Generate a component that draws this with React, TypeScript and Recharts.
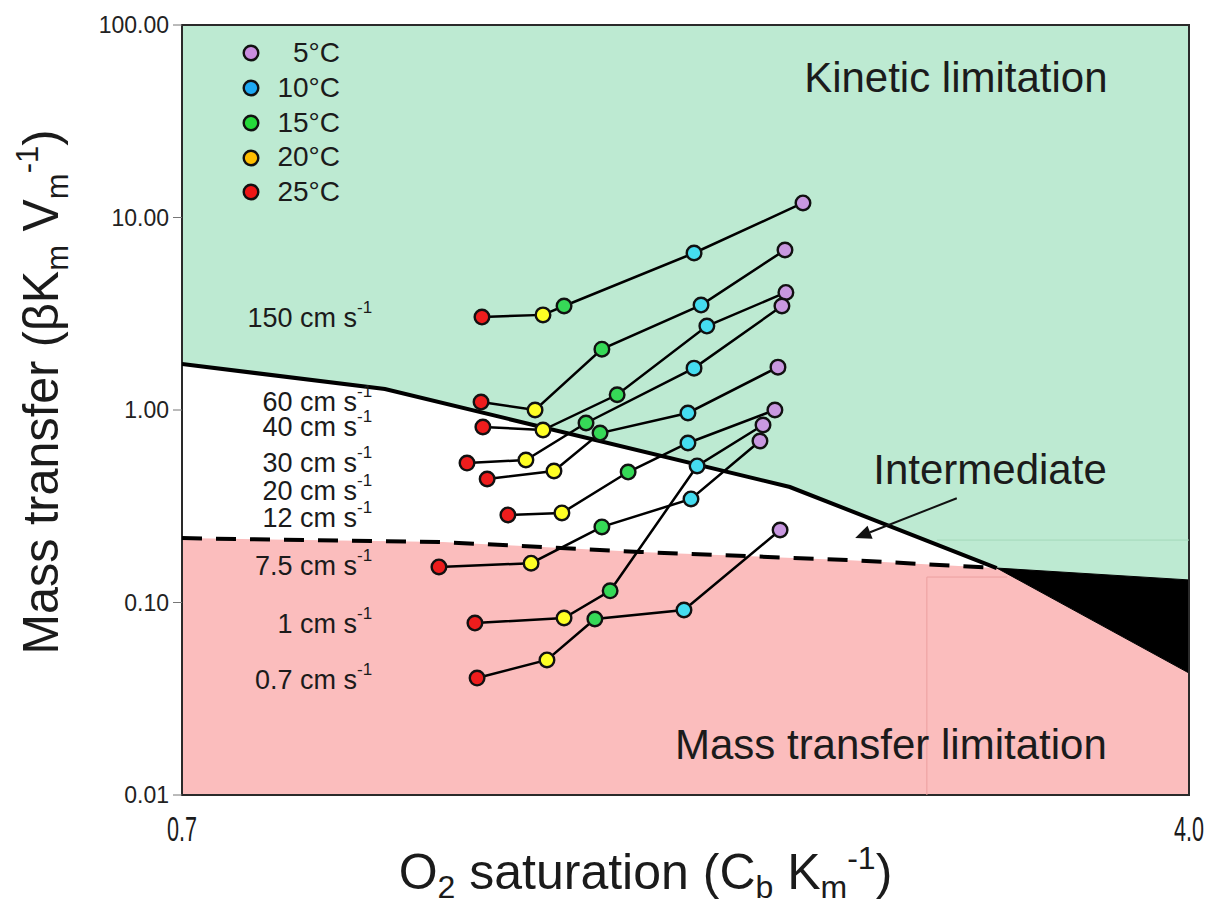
import {
  Area,
  ComposedChart,
  Legend,
  Line,
  ReferenceArea,
  ReferenceDot,
  ReferenceLine,
  XAxis,
  YAxis,
} from 'recharts'

const FONT = '"Liberation Sans", Arial, Helvetica, sans-serif'
const INK = '#1b1b1b'
const GREEN = '#bdead2'
const PINK = '#fbbdbd'

// Temperature of each point along a velocity line, left to right
const temperatures = [25, 20, 15, 10, 5]
const markerColors = ['#ee1d1d', '#ffff24', '#36d957', '#45dcf0', '#c998e0']

// Legend runs cold -> warm
const legendTemps = [5, 10, 15, 20, 25]
const legendColors = ['#c98ddf', '#1ea9f2', '#25d93a', '#ffbf00', '#ee1616']

// Flow velocities, cm s-1
const velocities = ['150', '60', '40', '30', '20', '12', '7.5', '1', '0.7']

// O2 saturation (Cb/Km) at 25, 20, 15, 10, 5 °C for each velocity
const saturation = [
  [1.683, 1.883, 1.952, 2.378, 2.735],
  [1.68, 1.857, 2.076, 2.401, 2.676],
  [1.686, 1.883, 2.126, 2.42, 2.679],
  [1.634, 1.827, 2.024, 2.378, 2.666],
  [1.7, 1.919, 2.07, 2.358, 2.653],
  [1.768, 1.945, 2.162, 2.358, 2.643],
  [1.542, 1.844, 2.076, 2.368, 2.594],
  [1.66, 1.952, 2.103, 2.388, 2.604],
  [1.667, 1.896, 2.053, 2.345, 2.66],
]

// Mass transfer (βKm/Vm), same order
const massTransfer = [
  [3.04, 3.12, 3.47, 6.54, 11.9],
  [1.1, 1.0, 2.07, 3.51, 6.78],
  [0.816, 0.787, 1.2, 2.73, 4.08],
  [0.53, 0.55, 0.856, 1.65, 3.47],
  [0.438, 0.482, 0.759, 0.965, 1.67],
  [0.285, 0.292, 0.476, 0.674, 1.0],
  [0.153, 0.16, 0.247, 0.345, 0.69],
  [0.0782, 0.0831, 0.115, 0.512, 0.836],
  [0.0405, 0.0503, 0.0821, 0.0914, 0.238],
]

// Kinetic limit (solid boundary), continues as top edge of the overlap wedge
const kineticSat = [0.7, 1.365, 2.692, 3.37, 4.0]
const kineticMt = [1.734, 1.285, 0.398, 0.151, 0.131]

// Mass transfer limit (dashed boundary), then bottom edge of the wedge
const massSat = [0.7, 1.555, 2.201, 2.889, 3.37, 4.0]
const massMt = [0.216, 0.206, 0.183, 0.166, 0.151, 0.043]

const xTicks = [0.7, 4.0]
const yTicks = [0.01, 0.1, 1, 10, 100]
const Y_MIN = 0.01
const Y_MAX = 100

// where the velocity captions sit
const speedLabelSat = 1.323
const speedLabelMt = [3.0, 1.1, 0.816, 0.53, 0.38, 0.275, 0.155, 0.0773, 0.0398]

const regionLabels = [
  { text: 'Kinetic limitation', x: 3.236, y: 53.1 },
  { text: 'Intermediate', x: 3.348, y: 0.488 },
  { text: 'Mass transfer limitation', x: 3.023, y: 0.0182 },
]

const lineData = velocities.map((_, i) =>
  saturation[i].map((x, j) => ({ x, y: massTransfer[i][j] })),
)
const kineticBand = kineticSat.map((x, i) => ({ x, band: [kineticMt[i], Y_MAX] }))
const massBand = massSat.map((x, i) => ({ x, band: [Y_MIN, massMt[i]] }))
const wedgeBand = kineticSat.slice(3).map((x, i) => ({ x, band: [massMt[i + 4], kineticMt[i + 3]] }))
const kineticLine = kineticSat.slice(0, 4).map((x, i) => ({ x, y: kineticMt[i] }))
const massLine = massSat.slice(0, 5).map((x, i) => ({ x, y: massMt[i] }))

const renderDot = (props: any) => {
  const { cx, cy, index } = props
  return (
    <circle
      key={`dot-${index}`}
      cx={cx}
      cy={cy}
      r={7.3}
      fill={markerColors[index]}
      stroke="#111"
      strokeWidth={2.4}
    />
  )
}

function TempLegend() {
  return (
    <div style={{ fontFamily: FONT, fontSize: 28, color: INK }}>
      {legendTemps.map((t, i) => (
        <div key={t} style={{ display: 'flex', alignItems: 'center', height: 34.75 }}>
          <svg width={20} height={20}>
            <circle cx={10} cy={10} r={7.3} fill={legendColors[i]} stroke="#111" strokeWidth={2.4} />
          </svg>
          <span style={{ width: 79, textAlign: 'right', lineHeight: '34.75px' }}>{t}°C</span>
        </div>
      ))}
    </div>
  )
}

const XTick = ({ x, y, payload }: any) => (
  <text
    transform={`translate(${x},${y}) scale(0.6,1)`}
    textAnchor="middle"
    dy="0.71em"
    fontFamily={FONT}
    fontSize={36}
    fill={INK}
  >
    {Number(payload.value).toFixed(1)}
  </text>
)

const XTitle = ({ viewBox }: any) => {
  const vb = viewBox ?? { x: 174, y: 787, width: 1007, height: 97 }
  const x = vb.x + vb.width / 2 - 40
  const y = vb.y + 94
  return (
    <text x={x} y={y} textAnchor="middle" fontFamily={FONT} fontSize={50} fill={INK}>
      O<tspan fontSize={32} dy={9}>2</tspan>
      <tspan dy={-9}> saturation (C</tspan>
      <tspan fontSize={32} dy={9}>b</tspan>
      <tspan dy={-9}> K</tspan>
      <tspan fontSize={32} dy={9}>m</tspan>
      <tspan fontSize={32} dy={-29}>-1</tspan>
      <tspan dy={20}>)</tspan>
    </text>
  )
}

const YTitle = ({ viewBox }: any) => {
  const vb = viewBox ?? { x: 74, y: 17, width: 100, height: 770 }
  const x = vb.x - 24
  const y = vb.y + vb.height / 2 - 18
  return (
    <text
      transform={`translate(${x},${y}) rotate(-90) scale(0.97,1)`}
      textAnchor="middle"
      fontFamily={FONT}
      fontSize={50}
      fill={INK}
    >
      Mass transfer (βK<tspan fontSize={32} dy={10}>m</tspan>
      <tspan dy={-10}> V</tspan>
      <tspan fontSize={32} dy={10}>m</tspan>
      <tspan fontSize={32} dy={-30}>-1</tspan>
      <tspan dy={20}>)</tspan>
    </text>
  )
}

const speedLabel = (text: string) => (props: any) => (
  <text
    x={props.cx}
    y={props.cy}
    textAnchor="end"
    dominantBaseline="central"
    fontFamily={FONT}
    fontSize={27}
    fill={INK}
  >
    {text} cm s
    <tspan fontSize={17} dy={-11}>
      -1
    </tspan>
  </text>
)

const regionLabel = (text: string) => (props: any) => (
  <text
    x={props.cx}
    y={props.cy}
    textAnchor="middle"
    dominantBaseline="central"
    fontFamily={FONT}
    fontSize={42}
    fill={INK}
  >
    {text}
  </text>
)

const arrowShape = (props: any) => {
  const { x1, y1, x2, y2 } = props
  const ang = Math.atan2(y2 - y1, x2 - x1)
  const len = 16
  const half = 7
  const bx = x2 - len * Math.cos(ang)
  const by = y2 - len * Math.sin(ang)
  const px = -Math.sin(ang) * half
  const py = Math.cos(ang) * half
  return (
    <g>
      <line x1={x1} y1={y1} x2={bx} y2={by} stroke="#111" strokeWidth={2} />
      <polygon points={`${x2},${y2} ${bx + px},${by + py} ${bx - px},${by - py}`} fill="#111" />
    </g>
  )
}

export default function App() {
  return (
    <div style={{ width: 1200, height: 897 }}>
      <ComposedChart width={1200} height={897} margin={{ top: 17, right: 19, bottom: 13, left: 74 }}>
        <XAxis
          type="number"
          dataKey="x"
          domain={[0.7, 4.0]}
          ticks={xTicks}
          allowDataOverflow
          axisLine={false}
          tickLine={false}
          tickSize={0}
          tickMargin={20}
          height={97}
          tick={<XTick />}
          label={<XTitle />}
        />
        <YAxis
          type="number"
          scale="log"
          domain={[Y_MIN, Y_MAX]}
          ticks={yTicks}
          allowDataOverflow
          width={100}
          axisLine={false}
          tickLine={{ stroke: '#777' }}
          tickSize={9}
          tickMargin={4}
          tickFormatter={(v: number) => v.toFixed(2)}
          tick={{ fontSize: 23, fill: '#222', fontFamily: FONT }}
          label={<YTitle />}
        />

        <Area data={massBand} dataKey="band" type="linear" stroke="none" fill={PINK} fillOpacity={1} isAnimationActive={false} activeDot={false} />
        <Area data={kineticBand} dataKey="band" type="linear" stroke="none" fill={GREEN} fillOpacity={1} isAnimationActive={false} activeDot={false} />
        <Area data={wedgeBand} dataKey="band" type="linear" stroke="#000" strokeWidth={1} fill="#000" fillOpacity={1} isAnimationActive={false} activeDot={false} />

        {/* faint edges left over from the shaded regions */}
        <ReferenceLine segment={[{ x: 3.174, y: 0.211 }, { x: 4.0, y: 0.211 }]} stroke="#a3d8bb" strokeWidth={1} />
        <ReferenceLine segment={[{ x: 3.141, y: 0.1356 }, { x: 3.141, y: Y_MIN }]} stroke="#eb9f9f" strokeWidth={1} />
        <ReferenceLine segment={[{ x: 3.141, y: 0.1356 }, { x: 3.404, y: 0.1356 }]} stroke="#eb9f9f" strokeWidth={1} />

        <Line data={kineticLine} dataKey="y" type="linear" stroke="#000" strokeWidth={4} dot={false} activeDot={false} isAnimationActive={false} />
        <Line data={massLine} dataKey="y" type="linear" stroke="#000" strokeWidth={4} strokeDasharray="20 14" dot={false} activeDot={false} isAnimationActive={false} />

        {lineData.map((pts, i) => (
          <Line
            key={velocities[i]}
            data={pts}
            dataKey="y"
            name={`${velocities[i]} cm s-1`}
            type="linear"
            stroke="#000"
            strokeWidth={2.5}
            dot={renderDot}
            activeDot={false}
            isAnimationActive={false}
          />
        ))}

        <ReferenceArea x1={0.7} x2={4.0} y1={Y_MIN} y2={Y_MAX} fill="none" stroke="#2a2a2a" strokeWidth={2} />

        {velocities.map((v, i) => (
          <ReferenceDot key={`lbl-${v}`} x={speedLabelSat} y={speedLabelMt[i]} r={0} shape={speedLabel(v)} />
        ))}
        {regionLabels.map((r) => (
          <ReferenceDot key={r.text} x={r.x} y={r.y} r={0} shape={regionLabel(r.text)} />
        ))}
        <ReferenceLine segment={[{ x: 3.239, y: 0.348 }, { x: 2.906, y: 0.216 }]} shape={arrowShape} />

        <Legend
          layout="vertical"
          align="center"
          verticalAlign="middle"
          content={<TempLegend />}
          wrapperStyle={{ left: 233, top: 28, width: 'auto', height: 'auto' }}
        />
      </ComposedChart>
    </div>
  )
}
